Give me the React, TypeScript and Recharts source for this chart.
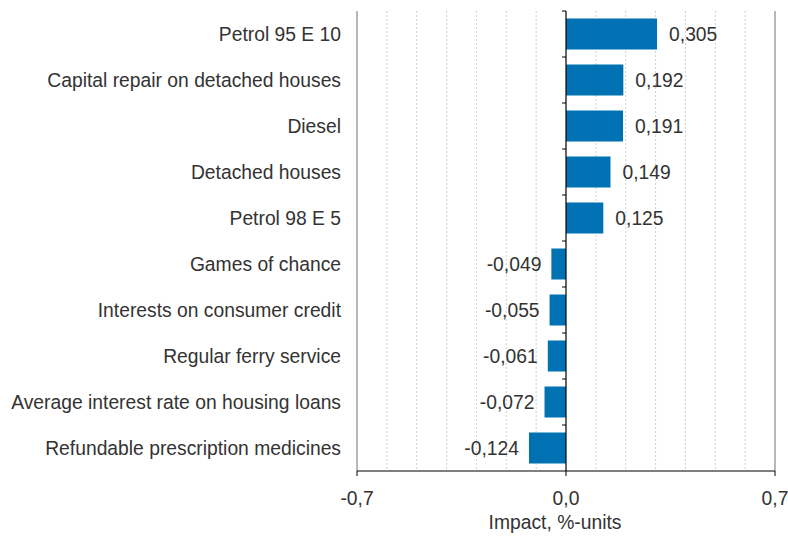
import React from 'react';
import { BarChart, Bar, XAxis, YAxis, ReferenceLine, LabelList, CartesianGrid } from 'recharts';

const categories = [
  'Petrol 95 E 10',
  'Capital repair on detached houses',
  'Diesel',
  'Detached houses',
  'Petrol 98 E 5',
  'Games of chance',
  'Interests on consumer credit',
  'Regular ferry service',
  'Average interest rate on housing loans',
  'Refundable prescription medicines',
];
const impacts = [0.305, 0.192, 0.191, 0.149, 0.125, -0.049, -0.055, -0.061, -0.072, -0.124];
const xDomain = [-0.7, 0.7];
const xTicks = [-0.7, 0, 0.7];
const gridTicks = [-0.6, -0.5, -0.4, -0.3, -0.2, -0.1, 0.1, 0.2, 0.3, 0.4, 0.5, 0.6];
const edgeTicks = [-0.7, 0.7];
const axisTitle = 'Impact, %-units';

const data = categories.map((name, i) => ({ name, value: impacts[i] }));

const fmt = (v: number, d: number) => v.toFixed(d).replace('.', ',');
const FONT = 'Liberation Sans, Arial, sans-serif';
const FS = 19.3;

const ValueLabel = (props: any) => {
  const { x, y, width, height, value } = props;
  const left = Math.min(x, x + width);
  const right = Math.max(x, x + width);
  const cy = y + height / 2;
  const neg = value < 0;
  return (
    <text
      x={neg ? left - 10 : right + 12}
      y={cy}
      dy="0.36em"
      textAnchor={neg ? 'end' : 'start'}
      fontSize={FS}
      fontFamily={FONT}
      fill="#333333"
    >
      {fmt(value, 3)}
    </text>
  );
};

const ZeroLine = (props: any) => {
  const { x1, y1, y2 } = props;
  const top = Math.min(y1, y2);
  const bottom = Math.max(y1, y2);
  const n = categories.length;
  const step = (bottom - top) / n;
  const ticks = [];
  for (let i = 0; i < n; i++) {
    const ty = top + step * i;
    ticks.push(<line key={i} x1={x1 - 4} x2={x1} y1={ty} y2={ty} stroke="#000" strokeWidth={1} />);
  }
  return (
    <g>
      <line x1={x1} x2={x1} y1={top} y2={bottom} stroke="#000" strokeWidth={1.2} />
      {ticks}
    </g>
  );
};

const gridGen = (props: any) => {
  const { xAxis, offset } = props;
  const sc = xAxis && xAxis.scale;
  if (typeof sc === 'function') {
    return gridTicks.map((t) => sc(t));
  }
  if (sc && typeof sc.map === 'function') {
    return gridTicks.map((t) => sc.map(t));
  }
  return gridTicks.map((t) => offset.left + ((t - xDomain[0]) / (xDomain[1] - xDomain[0])) * offset.width);
};

export default function App() {
  return (
    <div style={{ position: 'absolute', left: 0, top: 0, width: 788, height: 536, background: '#fff' }}>
      <BarChart
        width={788}
        height={536}
        data={data}
        layout="vertical"
        margin={{ top: 11, right: 13, bottom: 0, left: 0 }}
        barCategoryGap={7.5}
      >
        <CartesianGrid
          horizontal={false}
          stroke="#cfcfcf"
          strokeDasharray="2 2"
          verticalCoordinatesGenerator={gridGen}
        />
        {edgeTicks.map((t) => (
          <ReferenceLine key={'e' + t} x={t} stroke="#a0a0a0" strokeWidth={1.5} />
        ))}
        <XAxis
          type="number"
          domain={xDomain}
          ticks={xTicks}
          interval={0}
          height={65}
          tickFormatter={(v: number) => fmt(v, 1)}
          tick={{ fontSize: FS, fontFamily: FONT, fill: '#333333' }}
          axisLine={{ stroke: '#000', strokeWidth: 1.2 }}
          tickLine={{ stroke: '#000' }}
          tickSize={5}
          tickMargin={15}
          label={{ value: axisTitle, position: 'insideBottom', offset: 7, dx: -11, fontSize: FS, fontFamily: FONT, fill: '#333333' }}
        />
        <YAxis
          type="category"
          dataKey="name"
          width={357}
          axisLine={false}
          tickLine={false}
          tickSize={0}
          tickMargin={16}
          interval={0}
          tick={{ fontSize: FS, fontFamily: FONT, fill: '#333333' }}
        />
        <Bar dataKey="value" fill="#0071b2" isAnimationActive={false}>
          <LabelList dataKey="value" content={ValueLabel} />
        </Bar>
        <ReferenceLine x={0} stroke="#000" shape={ZeroLine} />
      </BarChart>
    </div>
  );
}
